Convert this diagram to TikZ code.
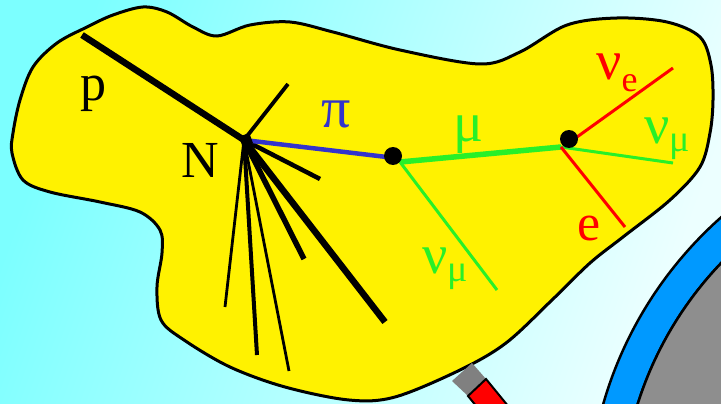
\documentclass[tikz,border=0pt]{standalone}
\usepackage{fontspec}
\setmainfont{Liberation Serif}
\definecolor{skyL}{RGB}{124,255,255}
\definecolor{skyR}{RGB}{236,255,255}
\definecolor{pionblue}{RGB}{51,51,204}
\definecolor{mugreen}{RGB}{40,240,40}
\definecolor{ringblue}{RGB}{0,153,255}
\definecolor{detgray}{RGB}{142,142,142}
\definecolor{capgray}{RGB}{128,128,128}
\begin{document}
\begin{tikzpicture}[x=1pt,y=-1pt,
  blob/.style={fill=yellow,draw=black,line width=3pt},
  trk/.style={draw=black,line width=#1},
  pitrk/.style={draw=pionblue,line width=4.5pt},
  mutrk/.style={draw=mugreen,line width=5.5pt},
  nutrk/.style={draw=mugreen,line width=3pt},
  etrk/.style={draw=red,line width=3pt},
  dot/.style={circle,fill=black,inner sep=0pt,minimum size=18pt},
  hub/.style={rectangle,fill=black,inner sep=0pt,minimum size=11pt,rotate=20},
  lbl/.style={inner sep=0pt,anchor=base west},
  big/.style={font=\fontsize{52}{52}\selectfont},
]
\useasboundingbox (0,0) rectangle (721,404);
\clip (0,0) rectangle (721,404);
% sky background
\shade[left color=skyL,right color=skyR,shading angle=70] (0,0) rectangle (721,404);

% interaction volume
\draw[blob] plot[smooth cycle,tension=0.55] coordinates {
  (13,133) (20,100) (33,67) (57,43) (87,27) (113,15) (143,7) (167,12)
  (193,27) (217,36) (250,25) (290,22) (333,32) (400,50) (480,64) (520,52)
  (567,25) (617,18) (667,22) (700,37) (711,65) (713,100) (710,133) (700,167)
  (670,200) (623,237) (590,263) (552,300) (506,343) (460,370) (395,397)
  (349,400) (285,387) (230,367) (184,340) (161,320) (157,287) (162,253)
  (160,230) (140,212) (100,202) (50,192) (23,180) (12,153)};

% primary vertex and hadron shower
\coordinate (N) at (244,140);
\coordinate (pin) at (82,35);
\coordinate (u1) at (288,84);
\coordinate (r1) at (320,179);
\coordinate (f1) at (225,307);
\coordinate (f2) at (257,355);
\coordinate (f3) at (289,371);
\coordinate (f4) at (304,259);
\coordinate (f5) at (385,322);
\draw[trk=6.5pt] (pin) -- (N);
\draw[trk=3.8pt] (N) -- (u1);
\draw[trk=4.5pt] (N) -- (r1);
\draw[trk=2.8pt] (N) -- (f1);
\draw[trk=4pt] (N) -- (f2);
\draw[trk=2.8pt] (N) -- (f3);
\draw[trk=5.5pt] (N) -- (f4);
\draw[trk=6.5pt] (N) -- (f5);

% pion decay
\coordinate (k1) at (400,162);
\coordinate (k2) at (561,147);
\coordinate (nm1) at (497,290);
\draw[pitrk] (N) -- (395,158) coordinate (pe);
\draw[mutrk] (k1) -- (k2);
\draw[nutrk] (k1) -- (nm1);

% muon decay
\coordinate (ne) at (673,68);
\coordinate (nm2) at (673,163);
\coordinate (el) at (625,227);
\draw[etrk] (577,137) -- (ne);
\draw[nutrk] (k2) -- (nm2);
\draw[etrk] (k2) -- (el);

\node[hub] (Nv) at (246,140) {};
\node[dot] (d1) at (393,156) {};
\node[dot] (d2) at (569,139) {};

% labels
\node[lbl,big] (lp) at (80,101) {p};
\node[lbl,big] (lN) at (181,177) {N};
\node[lbl,text=pionblue,font=\fontsize{58}{58}\selectfont] (lpi) at (321,128) {π};
\node[lbl,text=mugreen,font=\fontsize{56}{56}\selectfont] (lmu) at (453,142) {μ};
\node[lbl,text=red] (lne) at (596,80)
  {\fontsize{56}{56}\selectfont ν\fontsize{36}{36}\selectfont\raisebox{-12pt}{e}};
\node[lbl,text=mugreen] (lnm2) at (644,143)
  {\fontsize{56}{56}\selectfont ν\fontsize{38}{38}\selectfont\raisebox{-8pt}{μ}};
\node[lbl,text=mugreen] (lnm1) at (422,273)
  {\fontsize{56}{56}\selectfont ν\fontsize{38}{38}\selectfont\raisebox{-8pt}{μ}};
\node[lbl,big,text=red] (le) at (577,240) {e};

% detector wall
\filldraw[fill=ringblue,draw=black,line width=2.5pt,even odd rule]
  (983,513) circle (395pt) (983,513) circle (362pt);
\filldraw[fill=detgray,draw=black,line width=2.5pt] (983,513) circle (362pt);

% module with grey cap
\fill[capgray] (452,381) -- (472,363) -- (486,379) -- (468,396) -- cycle;
\filldraw[fill=red,draw=black,line width=2pt]
  (468,396) -- (486,379) -- (522,423) -- (504,440) -- cycle;
\end{tikzpicture}
\end{document}
